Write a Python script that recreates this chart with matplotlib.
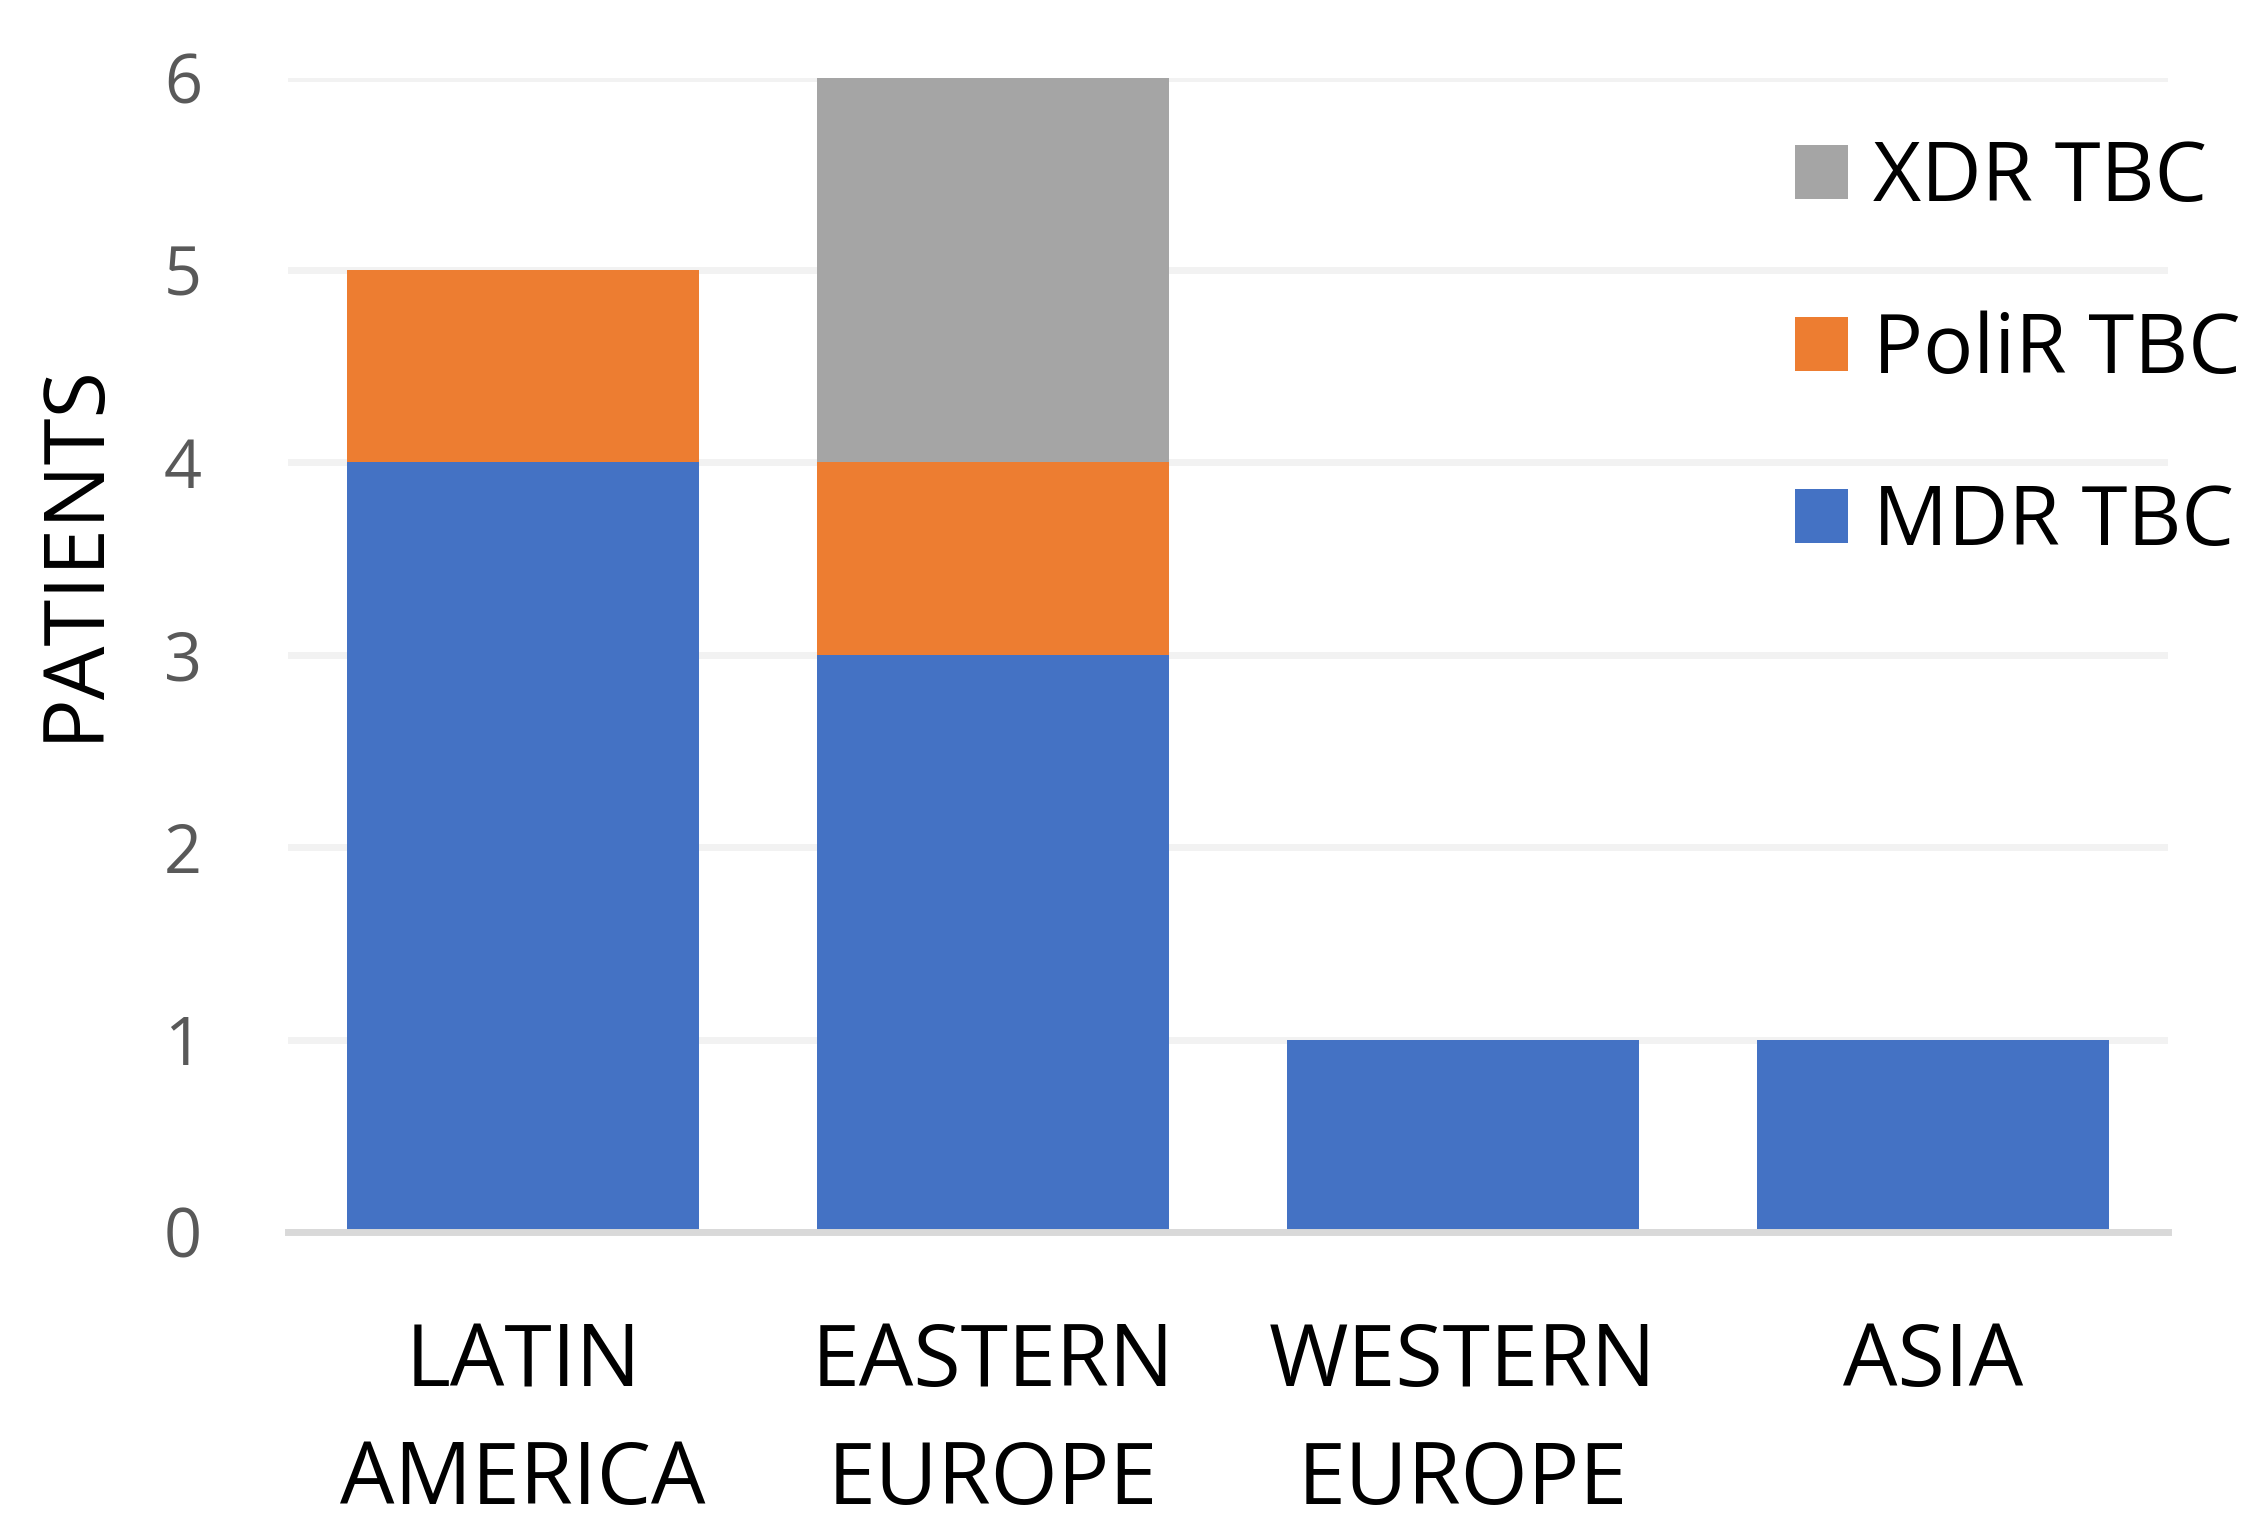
import matplotlib
matplotlib.use("Agg")

import matplotlib.pyplot as plt
import numpy as np
from matplotlib.patches import Patch

plt.rcParams["font.family"] = ["Open Sans", "DejaVu Sans"]

regions = ["LATIN\nAMERICA", "EASTERN\nEUROPE", "WESTERN\nEUROPE", "ASIA"]
mdr = [4, 3, 1, 1]
polir = [1, 1, 0, 0]
xdr = [0, 2, 0, 0]

series_names = ["MDR TBC", "PoliR TBC", "XDR TBC"]
series_colors = ["#4472C4", "#ED7D31", "#A5A5A5"]

W, H = 2266, 1519
fig = plt.figure(figsize=(W / 100, H / 100), dpi=100)
ax = fig.add_axes([288 / W, 1 - 1232 / H, 1880 / W, (1232 - 77.5) / H])

x = np.arange(len(regions))
bottom = np.zeros(len(regions))
for values, color in zip([mdr, polir, xdr], series_colors):
    ax.bar(x, values, width=0.75, bottom=bottom, color=color, zorder=2)
    bottom += np.array(values)

ax.set_xlim(-0.5, 3.5)
ax.set_ylim(0, 6)
ax.set_yticks(range(0, 7))
ax.grid(axis="y", color="#F2F2F2", linewidth=5, zorder=0)
ax.set_axisbelow(True)

for side in ["top", "right", "left"]:
    ax.spines[side].set_visible(False)
ax.spines["bottom"].set_color("#D9D9D9")
ax.spines["bottom"].set_linewidth(5)
ax.spines["bottom"].set_zorder(3)

ax.set_xticks(x)
ax.set_xticklabels(regions, fontsize=62, linespacing=1.48)
ax.tick_params(axis="x", length=0, pad=64, colors="black")
ax.tick_params(axis="y", length=0, pad=62, labelsize=48, labelcolor="#595959")

fig.text(75 / W, 1 - 552 / H, "PATIENTS", rotation=90, ha="center", va="center",
         fontsize=61, color="black")

handles = [Patch(facecolor=c) for c in series_colors][::-1]
labels = series_names[::-1]
ax.legend(handles, labels, loc="upper left", bbox_to_anchor=(1795 / W, 1 - 139 / H),
          bbox_transform=fig.transFigure, frameon=False, fontsize=60,
          handlelength=0.64, handleheight=0.62, handletextpad=0.3,
          labelspacing=1.07, borderpad=0, borderaxespad=0)

fig.savefig("out.png", dpi=100)
